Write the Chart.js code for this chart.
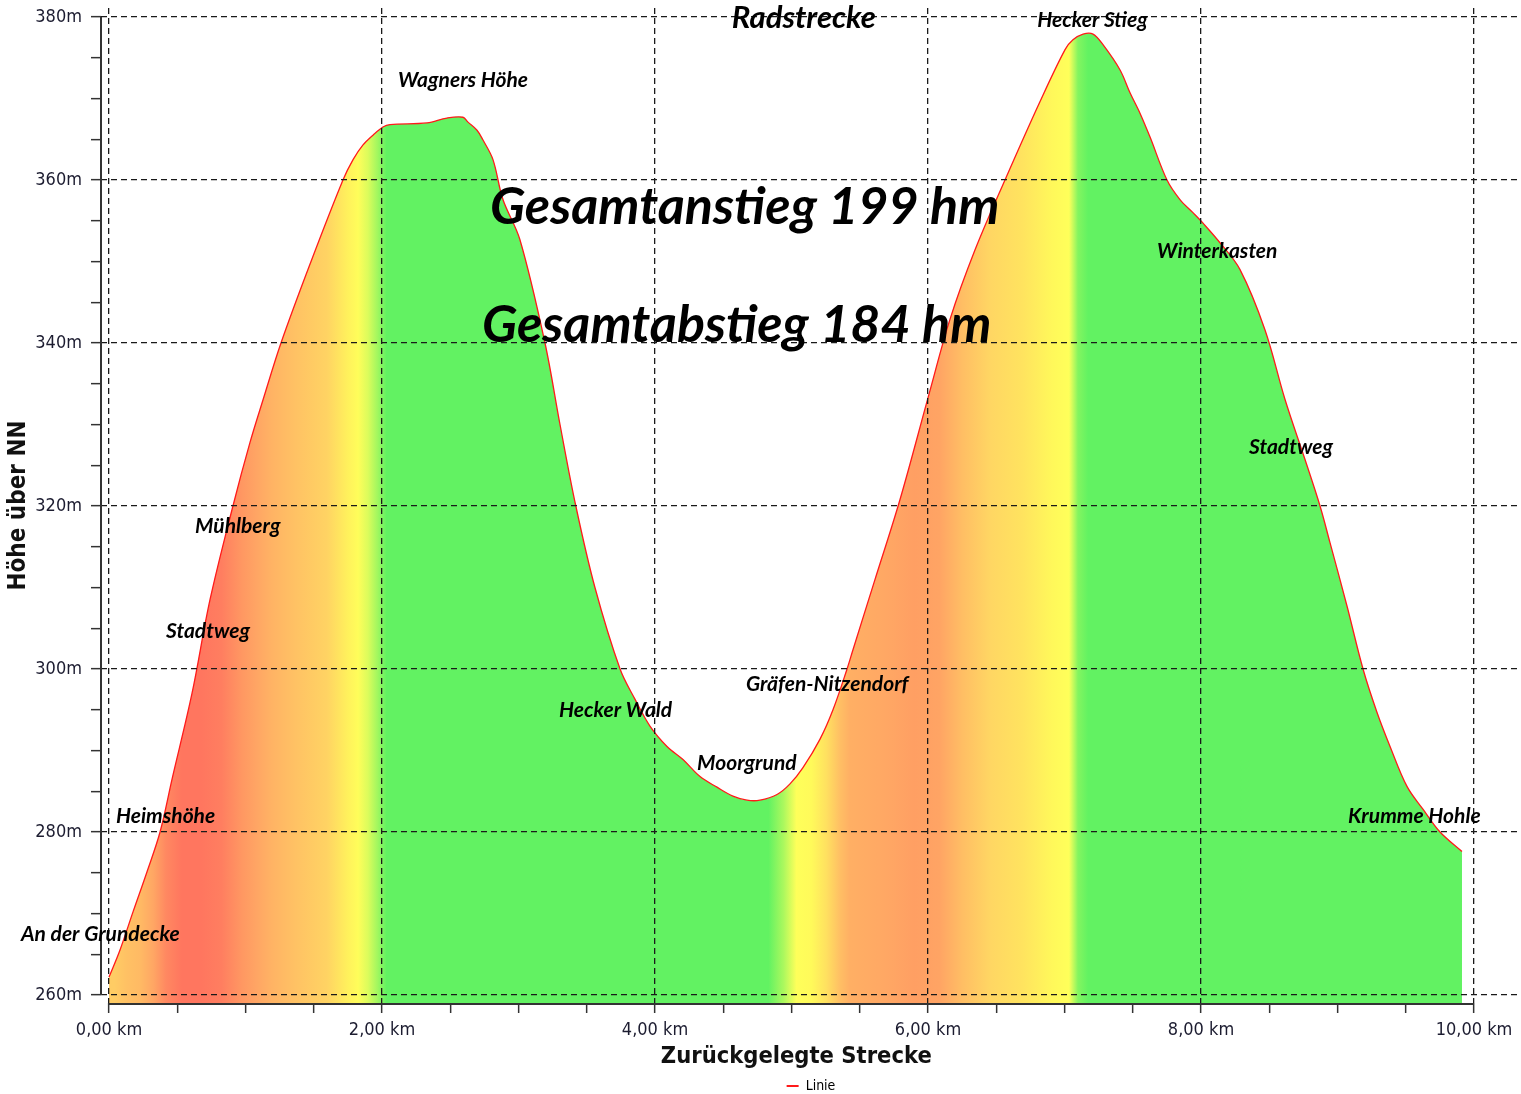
<!DOCTYPE html>
<html lang="de">
<head>
<meta charset="utf-8">
<title>Radstrecke</title>
<style>
  html, body { margin: 0; padding: 0; background: #fff; }
</style>
</head>
<body>
<canvas id="profil" width="1521" height="1094"></canvas>
<script src="https://cdn.jsdelivr.net/npm/chart.js/dist/chart.umd.min.js"></script>
<script>
// Höhenprofil
const distKm = [0.00, 0.08, 0.176, 0.278, 0.374, 0.462, 0.608, 0.74, 0.908, 1.033, 1.128, 1.26, 1.48, 1.714,
  1.788, 1.861, 1.934, 2.007, 2.059, 2.33, 2.476, 2.593, 2.63, 2.696, 2.74, 2.813, 2.886, 3.01, 3.194, 3.304,
  3.42, 3.56, 3.744, 3.853, 3.963, 4.088, 4.205, 4.33, 4.454, 4.571, 4.674, 4.769, 4.894, 4.989, 5.084, 5.209,
  5.304, 5.407, 5.451, 5.612, 5.795, 6.007, 6.161, 6.344, 6.564, 6.82, 7.004, 7.062, 7.136, 7.209, 7.282, 7.407,
  7.48, 7.553, 7.626, 7.751, 7.846, 7.941, 8.015, 8.139, 8.286, 8.469, 8.615, 8.762, 8.872, 8.945, 9.07, 9.187,
  9.289, 9.385, 9.509, 9.626, 9.751, 9.912];
const elevM = [262.2, 265.5, 270.2, 275.1, 280.0, 286.5, 297.0, 308.5, 320.0, 327.8, 333.0, 340.0, 350.0, 360.0,
  362.5, 364.3, 365.5, 366.5, 366.8, 367.0, 367.6, 367.7, 367.1, 366.1, 364.9, 362.5, 357.6, 352.7, 340.0, 330.0,
  320.0, 310.0, 300.0, 296.3, 293.0, 290.5, 288.9, 286.8, 285.5, 284.4, 283.9, 283.9, 284.6, 285.9, 287.9, 291.4,
  295.0, 300.0, 302.4, 311.0, 320.8, 333.7, 342.9, 351.4, 360.0, 369.6, 376.0, 377.2, 377.9, 377.9, 376.6, 373.5,
  370.7, 368.2, 365.3, 360.0, 357.6, 356.0, 354.7, 352.3, 349.0, 341.6, 333.1, 325.7, 320.0, 315.5, 307.7, 300.0,
  294.7, 290.5, 285.6, 282.8, 280.0, 277.6];

const xTickValues = [0, 2, 4, 6, 8, 10];
const yTickValues = [260, 280, 300, 320, 340, 360, 380];
const xMinorStep = 0.5;
const yMinorStep = 5;

// Ortsnamen: linke Textkante (km) und Höhe der Textmitte (m)
const placeNames = ["Hecker Stieg", "Wagners Höhe", "Winterkasten", "Stadtweg", "Mühlberg", "Stadtweg",
  "Gräfen-Nitzendorf", "Hecker Wald", "Moorgrund", "Heimshöhe", "Krumme Hohle", "An der Grundecke"];
const placeKm = [6.80, 2.117, 7.678, 8.352, 0.63, 0.418, 4.667, 3.297, 4.308, 0.051, 9.077, -0.645];
const placeM = [379.6, 372.3, 351.3, 327.2, 317.5, 304.6, 298.1, 294.9, 288.4, 281.9, 281.9, 267.5];

const totalsText = ["Gesamtanstieg 199 hm", "Gesamtabstieg 184 hm"];
const totalsKm = [2.791, 2.733];
const totalsM = [356.7, 342.2];

const titleText = "Radstrecke";
const titleKm = 5.09;
const titleM = 379.9;

// pixel geometry of the plot (0..10 km over 1365 px, 260..380 m over 979 px)
const kmPerPx = 10 / 1365;
const mPerPx = 120 / 979;

// farbe nach steigung (m pro km)
const slopeStops = [
  [-1000, [98, 242, 98]],
  [7, [98, 242, 98]],
  [21, [255, 255, 90]],
  [32, [255, 248, 90]],
  [42, [255, 208, 100]],
  [55, [255, 168, 100]],
  [75, [255, 118, 95]],
  [1000, [255, 118, 95]]
];

function slopeColor(s) {
  for (let i = 1; i < slopeStops.length; i++) {
    const [s1, c1] = slopeStops[i];
    const [s0, c0] = slopeStops[i - 1];
    if (s <= s1) {
      const t = (s - s0) / (s1 - s0);
      const c = c0.map((v, k) => Math.round(v + (c1[k] - v) * t));
      return `rgb(${c[0]},${c[1]},${c[2]})`;
    }
  }
  return "rgb(255,118,95)";
}

let cachedGradient = null;
function fillGradient(chart) {
  const { ctx, chartArea, scales } = chart;
  if (!chartArea) return null;
  if (cachedGradient) return cachedGradient;
  const x = scales.x;
  const n = distKm.length;
  const slopes = [];
  for (let i = 0; i < n - 1; i++) {
    slopes.push((elevM[i + 1] - elevM[i]) / (distKm[i + 1] - distKm[i]));
  }
  const x0 = x.getPixelForValue(distKm[0]);
  const x1 = x.getPixelForValue(distKm[n - 1]);
  const g = ctx.createLinearGradient(x0, 0, x1, 0);
  for (let i = 0; i < slopes.length; i++) {
    const a = slopes[Math.max(0, i - 1)], b = slopes[i], c = slopes[Math.min(slopes.length - 1, i + 1)];
    const s = (a + 2 * b + c) / 4;
    const mid = (distKm[i] + distKm[i + 1]) / 2;
    const off = (x.getPixelForValue(mid) - x0) / (x1 - x0);
    g.addColorStop(Math.min(1, Math.max(0, off)), slopeColor(s));
  }
  cachedGradient = g;
  return g;
}

const minorTicks = (from, to, step) => {
  const t = [];
  for (let v = from; v <= to + 1e-9; v += step) t.push({ value: Math.round(v * 100) / 100 });
  return t;
};

const textPlugin = {
  id: "profilTexte",
  afterDraw(chart) {
    const { ctx, scales } = chart;
    const x = scales.x, y = scales.y;
    ctx.save();
    ctx.fillStyle = "#000";
    ctx.textBaseline = "middle";

    // achsenlinien
    ctx.strokeStyle = "#333";
    ctx.lineWidth = 2;
    ctx.beginPath();
    ctx.moveTo(chart.chartArea.left, y.getPixelForValue(yTickValues[yTickValues.length - 1]));
    ctx.lineTo(chart.chartArea.left, y.getPixelForValue(yTickValues[0]));
    ctx.moveTo(x.getPixelForValue(xTickValues[0]), chart.chartArea.bottom + 1);
    ctx.lineTo(x.getPixelForValue(xTickValues[xTickValues.length - 1]), chart.chartArea.bottom + 1);
    ctx.stroke();

    ctx.textAlign = "left";
    ctx.font = "italic bold 21px Lato, 'Noto Sans', sans-serif";
    placeNames.forEach((name, i) => {
      ctx.fillText(name, x.getPixelForValue(placeKm[i]), y.getPixelForValue(placeM[i]));
    });

    ctx.font = "italic bold 52px Lato, 'Noto Sans', sans-serif";
    totalsText.forEach((t, i) => {
      ctx.fillText(t, x.getPixelForValue(totalsKm[i]), y.getPixelForValue(totalsM[i]));
    });

    ctx.textAlign = "center";
    ctx.font = "italic bold 31px Lato, 'Noto Sans', sans-serif";
    ctx.fillText(titleText, x.getPixelForValue(titleKm), y.getPixelForValue(titleM));
    ctx.restore();
  }
};

const tickFont = { family: "'DejaVu Sans Condensed', 'DejaVu Sans', sans-serif", size: 18 };
const titleFont = { family: "'DejaVu Sans Condensed', 'DejaVu Sans', sans-serif", size: 24, weight: "bold" };

const gridOpts = (majors) => ({
  z: 1,
  color: (c) => (c.tick && majors.includes(c.tick.value) ? "#1a1a1a" : "rgba(0,0,0,0)"),
  tickColor: "#333",
  tickLength: 10,
  tickWidth: 1.5,
  tickBorderDash: [],
  lineWidth: 1.3
});

const config = {
  type: "line",
  data: {
    datasets: [{
      label: "Linie",
      data: distKm.map((d, i) => ({ x: d, y: elevM[i] })),
      borderColor: "#ff1a1a",
      borderWidth: 1.3,
      pointRadius: 0,
      tension: 0.35,
      fill: "start",
      backgroundColor: (context) => fillGradient(context.chart)
    }]
  },
  options: {
    responsive: false,
    animation: false,
    layout: { padding: { top: 8, right: 0, left: 0, bottom: -9 } },
    scales: {
      x: {
        type: "linear",
        min: -8 * kmPerPx,
        max: 10 + 47 * kmPerPx,
        afterBuildTicks: (s) => { s.ticks = minorTicks(0, 10, xMinorStep); },
        afterFit: (s) => { s.height = 72; },
        grid: gridOpts(xTickValues),
        border: { display: false, dash: [6, 4] },
        ticks: {
          autoSkip: false,
          maxRotation: 0,
          padding: 7,
          color: "#1c1c30",
          font: tickFont,
          callback: (v) => (xTickValues.includes(v) ? v.toFixed(2).replace(".", ",") + " km" : "")
        },
        title: {
          display: true,
          text: "Zurückgelegte Strecke    ",
          color: "#111",
          font: { family: titleFont.family, size: 23.5, weight: "bold" },
          padding: { top: 4, bottom: 4 }
        }
      },
      y: {
        type: "linear",
        min: 260 - 8 * mPerPx,
        max: 380 + 9 * mPerPx,
        afterBuildTicks: (s) => { s.ticks = minorTicks(260, 380, yMinorStep); },
        afterFit: (s) => { s.width = 101; s.paddingTop = 0; s.paddingBottom = 0; },
        grid: gridOpts(yTickValues),
        border: { display: false, dash: [6, 4] },
        ticks: {
          autoSkip: false,
          padding: 9,
          color: "#1c1c30",
          font: tickFont,
          callback: (v) => (yTickValues.includes(v) ? v + "m" : "")
        },
        title: {
          display: true,
          text: "Höhe über NN",
          color: "#111",
          font: titleFont,
          padding: { top: 4, bottom: 0 }
        }
      }
    },
    plugins: {
      legend: {
        position: "bottom",
        fullSize: false,
        labels: {
          boxWidth: 12,
          boxHeight: 2,
          padding: 4,
          color: "#333",
          font: { family: tickFont.family, size: 14 },
          generateLabels: (chart) => chart.data.datasets.map((ds, i) => ({
            text: ds.label,
            fillStyle: ds.borderColor,
            strokeStyle: ds.borderColor,
            lineWidth: 0,
            datasetIndex: i
          }))
        }
      },
      tooltip: { enabled: false }
    }
  },
  plugins: [textPlugin]
};

const profilChart = new Chart(document.getElementById("profil"), config);
</script>
</body>
</html>
